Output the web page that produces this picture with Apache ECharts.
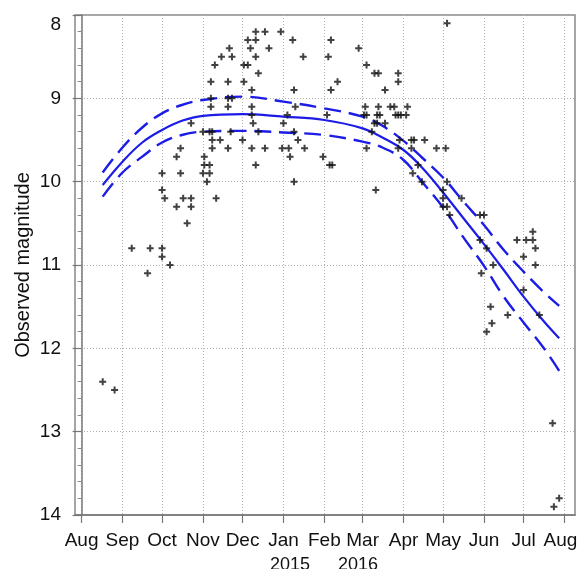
<!DOCTYPE html>
<html>
<head>
<meta charset="utf-8">
<script src="https://cdn.jsdelivr.net/npm/echarts@6/dist/echarts.min.js"></script>
<style>
html, body { margin: 0; padding: 0; background: #fff; }
#chart { width: 577px; height: 569px; }
</style>
</head>
<body>
<div id="chart"></div>
<script>
// Month ticks along the date axis
const tickDates = ['2015-08-01','2015-09-01','2015-10-01','2015-11-01','2015-12-01','2016-01-01',
  '2016-02-01','2016-03-01','2016-04-01','2016-05-01','2016-06-01','2016-07-01','2016-08-01'];
const tickLabels = ['Aug','Sep','Oct','Nov','Dec','Jan','Feb','Mar','Apr','May','Jun','Jul','Aug'];
const yearLabels = ['2015', '2016'];

// Visual estimates of the comet's brightness
const obsDates = [
  '2015-08-17','2015-08-26','2015-09-08','2015-09-20','2015-09-22','2015-10-01','2015-10-01','2015-10-07',
  '2015-10-01','2015-10-03','2015-10-12','2015-10-17','2015-10-23','2015-10-23','2015-10-20','2015-10-01',
  '2015-10-15','2015-10-12','2015-10-15','2015-10-23','2015-11-04','2015-11-11','2015-11-02','2015-11-02',
  '2015-11-06','2015-11-01','2015-11-06','2015-11-08','2015-11-01','2015-11-06','2015-11-08','2015-11-08',
  '2015-11-14','2015-11-20','2015-12-08','2015-12-18','2015-12-31','2016-01-05','2016-01-17','2016-01-06',
  '2015-12-11','2015-12-01','2016-01-12','2016-01-09','2015-11-22','2015-12-13','2016-01-01','2016-01-04',
  '2016-01-10','2016-01-09','2015-11-07','2015-11-07','2015-11-20','2015-11-23','2015-11-20','2015-12-08',
  '2015-12-08','2015-12-09','2015-11-10','2015-11-15','2015-11-21','2015-11-23','2015-11-07','2015-11-20',
  '2015-12-02','2015-12-02','2015-12-05','2015-12-08','2015-12-05','2015-12-07','2015-12-11','2015-12-11',
  '2015-12-11','2015-12-13','2015-12-18','2015-12-21','2015-12-30','2016-01-08','2016-01-09','2016-01-16',
  '2016-02-06','2016-02-04','2016-02-11','2016-02-06','2016-02-27','2016-03-04','2016-03-10','2016-03-13',
  '2016-03-28','2016-03-28','2016-03-18','2016-03-03','2016-03-13','2016-03-22','2016-03-25','2016-04-04',
  '2016-03-02','2016-03-04','2016-03-12','2016-03-14','2016-03-26','2016-03-28','2016-03-30','2016-04-03',
  '2016-03-10','2016-03-12','2016-03-18','2016-03-08','2016-02-03','2016-01-31','2016-02-05','2016-02-07',
  '2016-03-04','2016-03-11','2016-03-29','2016-04-07','2016-04-09','2016-04-17','2016-04-07','2016-04-26',
  '2016-05-03','2016-03-28','2016-04-12','2016-04-08','2016-04-15','2016-05-04','2016-05-04','2016-05-01',
  '2016-05-15','2016-05-01','2016-05-01','2016-05-04','2016-05-06','2016-05-29','2016-06-01','2016-05-29',
  '2016-06-03','2016-06-08','2016-05-30','2016-06-06','2016-06-07','2016-06-03','2016-06-19','2016-06-26',
  '2016-07-03','2016-07-08','2016-07-08','2016-07-10','2016-07-01','2016-07-10','2016-07-01','2016-07-13',
  '2016-07-23','2016-07-28','2016-07-24'
];
const obsMags = [
  12.4, 12.5, 10.8, 11.1, 10.8, 10.8, 10.9, 11.0,
  10.1, 10.2, 10.3, 10.2, 10.2, 10.3, 10.5, 9.9,
  9.9, 9.7, 9.6, 9.3, 10.0, 10.2, 9.7, 9.8,
  9.8, 9.9, 9.9, 9.6, 9.4, 9.4, 9.4, 9.5,
  9.5, 9.6, 9.6, 9.6, 9.6, 9.6, 9.6, 9.7,
  9.8, 9.5, 9.5, 9.4, 9.4, 9.4, 9.3, 9.2,
  9.1, 10.0, 9.0, 9.1, 9.0, 9.0, 9.1, 9.1,
  9.2, 9.3, 8.6, 8.5, 8.4, 8.5, 8.8, 8.8,
  8.8, 8.6, 8.6, 8.9, 8.3, 8.4, 8.2, 8.3,
  8.5, 8.7, 8.2, 8.4, 8.2, 8.3, 8.9, 8.5,
  8.3, 8.5, 8.8, 8.9, 8.4, 8.6, 8.7, 8.7,
  8.7, 8.8, 8.9, 9.1, 9.1, 9.1, 9.1, 9.1,
  9.2, 9.2, 9.2, 9.2, 9.2, 9.2, 9.2, 9.2,
  9.3, 9.3, 9.3, 9.4, 9.2, 9.7, 9.8, 9.8,
  9.6, 10.1, 9.5, 9.5, 9.5, 9.5, 9.6, 9.6,
  9.6, 9.6, 9.8, 9.9, 10.0, 8.1, 10.0, 10.1,
  10.2, 10.2, 10.3, 10.3, 10.4, 10.4, 10.4, 10.7,
  10.8, 11.0, 11.1, 11.5, 11.7, 11.8, 11.6, 10.7,
  10.7, 10.7, 10.6, 10.8, 10.9, 11.0, 11.3, 11.6,
  12.9, 13.8, 13.9
];

// Fitted light curve with its upper and lower bounds
const fitDates = ['2015-08-17','2015-09-01','2015-09-16','2015-10-01','2015-10-16','2015-11-01','2015-12-01',
  '2016-01-01','2016-02-01','2016-03-01','2016-03-16','2016-04-01','2016-04-15','2016-05-01','2016-05-16',
  '2016-06-01','2016-06-16','2016-07-01','2016-07-16','2016-07-28'];
const fitMid = [10.04, 9.76, 9.53, 9.38, 9.27, 9.21, 9.19, 9.22, 9.26, 9.36, 9.47, 9.62, 9.83, 10.13, 10.43,
  10.75, 11.06, 11.38, 11.67, 11.88];
const fitUpper = [9.89, 9.59, 9.35, 9.18, 9.08, 9.02, 8.98, 9.04, 9.12, 9.22, 9.33, 9.51, 9.71, 9.95, 10.23,
  10.52, 10.82, 11.08, 11.32, 11.49];
const fitLower = [10.18, 9.89, 9.70, 9.53, 9.44, 9.40, 9.39, 9.41, 9.44, 9.52, 9.59, 9.74, 10.0, 10.31, 10.66,
  11.01, 11.38, 11.69, 11.99, 12.27];

// Dates become day numbers counted from 1 Aug 2015 (UTC, so no DST drift)
const DAY0 = Date.UTC(2015, 7, 1);
function toDay(s) {
  const p = s.split('-').map(Number);
  return (Date.UTC(p[0], p[1] - 1, p[2]) - DAY0) / 86400000;
}
const tickDays = tickDates.map(toDay);
const pairs = (dates, vals) => dates.map((d, i) => [toDay(d), vals[i]]);

const FONT = '"Liberation Sans", Arial, sans-serif';
const BLUE = '#1c1ce6';
// "+" observation marker
const plusSymbol = 'path://M2.5,0H4.5V2.5H7V4.5H4.5V7H2.5V4.5H0V2.5H2.5Z';
const gridLine = { show: true, lineStyle: { color: '#b0b0b0', type: [1, 2], width: 1 } };

const chart = echarts.init(document.getElementById('chart'), null, { renderer: 'canvas' });
chart.setOption({
  animation: false,
  backgroundColor: '#fff',
  grid: { left: 75, right: 2, top: 15, bottom: 54, show: true, borderColor: '#888', borderWidth: 1.5,
    containLabel: false, outerBoundsMode: 'none' },
  xAxis: {
    type: 'value',
    min: toDay('2015-07-27'),
    max: toDay('2016-08-09'),
    axisLine: { show: true, onZero: false, lineStyle: { color: '#777', width: 1.5 } },
    axisTick: { show: true, customValues: tickDays, length: 8, lineStyle: { color: '#777', width: 1.2 } },
    axisLabel: {
      customValues: tickDays,
      fontFamily: FONT, fontSize: 19, color: '#111', margin: 16,
      formatter: (v) => {
        const i = tickDays.indexOf(v);
        if (i < 0) return '';
        return i === tickDays.length - 1 ? '{last|' + tickLabels[i] + '}' : tickLabels[i];
      },
      rich: { last: { fontFamily: FONT, fontSize: 19, color: '#111', padding: [0, 8, 0, 0] } }
    },
    splitLine: gridLine
  },
  yAxis: {
    type: 'value',
    inverse: true,
    min: 8, max: 14, interval: 1,
    name: 'Observed magnitude',
    nameLocation: 'middle',
    nameGap: 42,
    nameMoveOverlap: false,
    nameTextStyle: { fontFamily: FONT, fontSize: 20, color: '#111' },
    axisLine: { show: true, lineStyle: { color: '#777', width: 1.5 } },
    axisTick: { show: true, length: 9, lineStyle: { color: '#777', width: 1.2 } },
    minorTick: { show: true, splitNumber: 5, length: 4, lineStyle: { color: '#888' } },
    axisLabel: { fontFamily: FONT, fontSize: 19, color: '#111', margin: 14, verticalAlignMinLabel: 'top' },
    splitLine: gridLine
  },
  graphic: [
    { type: 'text', left: 270, top: 556, style: { text: yearLabels[0], font: '18px ' + FONT, fill: '#111' } },
    { type: 'text', left: 338, top: 556, style: { text: yearLabels[1], font: '18px ' + FONT, fill: '#111' } }
  ],
  series: [
    {
      type: 'line', data: pairs(fitDates, fitUpper), smooth: 0.4, showSymbol: false,
      lineStyle: { color: BLUE, width: 2.4, type: [17, 8] }, z: 3
    },
    {
      type: 'line', data: pairs(fitDates, fitMid), smooth: 0.4, showSymbol: false,
      lineStyle: { color: BLUE, width: 2.2 }, z: 3
    },
    {
      type: 'line', data: pairs(fitDates, fitLower), smooth: 0.4, showSymbol: false,
      lineStyle: { color: BLUE, width: 2.4, type: [17, 8] }, z: 3
    },
    {
      type: 'scatter', data: pairs(obsDates, obsMags), symbol: plusSymbol, symbolSize: 7,
      itemStyle: { color: '#111' }, z: 4
    }
  ]
});
</script>
</body>
</html>
